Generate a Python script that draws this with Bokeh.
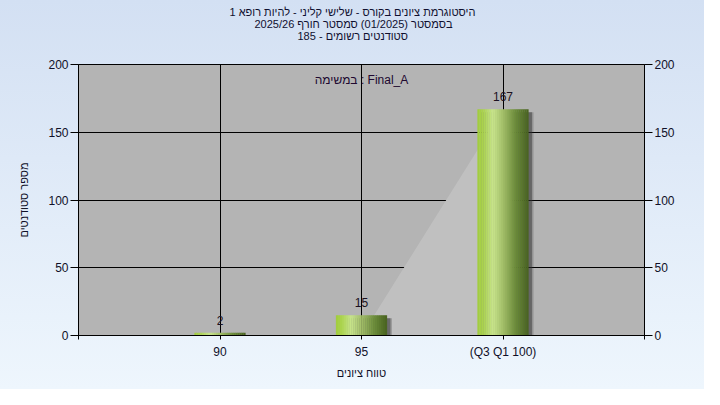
import numpy as np
from bokeh.plotting import figure
from bokeh.models import FixedTicker, LinearAxis, Range1d, Title, Label, ColumnDataSource
from bokeh.embed import file_html
from bokeh.resources import INLINE
from bokeh.core.properties import value

# ---------------- data ----------------
categories = ["90", "95", "(Q3 Q1 100)"]
counts = [2, 15, 167]
trend_values = [0, 0, 167]
y_ticks = [0, 50, 100, 150, 200]
title_lines = [
    "היסטוגרמת ציונים בקורס - שלישי קליני - להיות רופא 1",
    "בסמסטר  (01/2025)  סמסטר חורף 2025/26",
    "סטודנטים רשומים - 185",
]
task_label = "במשימה : Final_A"
x_title = "טווח ציונים"
y_title = "מספר סטודנטים"

FONT = "Liberation Sans"
positions = [i + 1 for i in range(len(categories))]

FW, FH = 566, 271
BL, BR, BT, BB = 78, 60, 64, 54

p = figure(
    title=None,
    frame_width=FW, frame_height=FH,
    min_border_left=BL, min_border_right=BR, min_border_top=BT, min_border_bottom=BB,
    x_range=Range1d(0, len(categories) + 1),
    y_range=Range1d(y_ticks[0], y_ticks[-1]),
    output_backend="svg", toolbar_location=None,
)
p.border_fill_alpha = 0
p.styles = {"background-image": "linear-gradient(#d3e0f3, #eef6fd)"}
p.background_fill_color = "#b4b4b4"
p.outline_line_color = "black"
p.outline_line_width = 1

# title lines (stacked from the frame upward)
p.add_layout(Title(text=" ", text_font_size="1px", standoff=20), "above")
for txt, so, off in [(title_lines[2], 0, 219), (title_lines[1], -4, 176), (title_lines[0], 0, 151)]:
    p.add_layout(Title(text=txt, align="left", offset=off, text_font=FONT, text_font_size="11px",
                       text_font_style="normal", text_color="#101030", standoff=so), "above")

# axes
xt = FixedTicker(ticks=list(range(0, len(categories) + 2)))
p.xaxis.ticker = xt
p.xaxis.major_label_overrides = {0: "", len(categories) + 1: "", **{pos: c for pos, c in zip(positions, categories)}}
p.yaxis.ticker = FixedTicker(ticks=y_ticks)

right = LinearAxis(ticker=FixedTicker(ticks=y_ticks))
p.add_layout(right, "right")

for ax in p.axis:
    ax.axis_line_color = "black"
    ax.major_tick_line_color = "black"
    ax.minor_tick_line_color = None
    ax.major_tick_in = 0
    ax.major_label_text_font = FONT
    ax.major_label_text_font_size = "12px"
    ax.major_label_text_color = "#101028"
    ax.axis_label_text_font = FONT
    ax.axis_label_text_font_style = "normal"
    ax.axis_label_text_font_size = "11px"
    ax.axis_label_text_color = "#101028"

for ax in p.yaxis:
    ax.major_tick_out = 8
    ax.major_label_standoff = 2
p.xaxis.major_tick_out = 4
p.xaxis.major_label_standoff = 5
p.xaxis.axis_label = x_title
p.xaxis.axis_label_standoff = 5
p.yaxis[0].axis_label = y_title
p.yaxis[0].axis_label_standoff = 15

p.xgrid.grid_line_color = "black"
p.ygrid.grid_line_color = "black"
p.xgrid.ticker = FixedTicker(ticks=positions)

# light area series behind bars
p.varea(x=positions, y1=[0] * len(positions), y2=trend_values, fill_color="#c0c0c0", fill_alpha=1)

# bars with shadow and horizontal gradient
bar_w = 0.36
px_x = (len(categories) + 1) / FW
px_y = (y_ticks[-1] - y_ticks[0]) / FH
p.vbar(x=[x + 5 * px_x for x in positions], width=bar_w, top=[c - 3 * px_y for c in counts],
       bottom=-10, fill_color="#303030", fill_alpha=0.25, line_color=None)
p.vbar(x=[x + 3.5 * px_x for x in positions], width=bar_w, top=[c - 3 * px_y for c in counts],
       bottom=-10, fill_color="#303030", fill_alpha=0.45, line_color=None)

stops = [(0.0, (160, 204, 60)), (0.12, (172, 212, 80)), (0.3, (200, 228, 140)),
         (0.5, (162, 190, 105)), (0.75, (108, 140, 58)), (1.0, (72, 98, 32))]

def grad(t):
    for (t0, c0), (t1, c1) in zip(stops[:-1], stops[1:]):
        if t <= t1:
            f = (t - t0) / (t1 - t0)
            return "#%02x%02x%02x" % tuple(int(round(a + (b - a) * f)) for a, b in zip(c0, c1))
    return "#%02x%02x%02x" % stops[-1][1]

n = 26
xs, tops, cols = [], [], []
for pos, c in zip(positions, counts):
    for j in range(n):
        t = (j + 0.5) / n
        xs.append(pos - bar_w / 2 + t * bar_w)
        tops.append(c)
        cols.append(grad(t))
src = ColumnDataSource(dict(x=xs, top=tops, color=cols))
p.vbar(x="x", top="top", bottom=0, width=bar_w / n * 1.15, fill_color="color", line_color=None, source=src)

# value labels
p.text(x=positions, y=counts, text=[str(c) for c in counts], text_align="center", text_baseline="bottom",
       y_offset=-8, text_font=value(FONT), text_font_size="12px", text_color="#1a1020")

# inner title
p.add_layout(Label(x=(len(categories) + 1) / 2, y=y_ticks[-1], text=task_label, text_align="center",
                   text_baseline="top", y_offset=-8, text_font=FONT, text_font_size="12px",
                   text_color="#200830"))

open("out.html", "w").write(file_html(p, INLINE))
